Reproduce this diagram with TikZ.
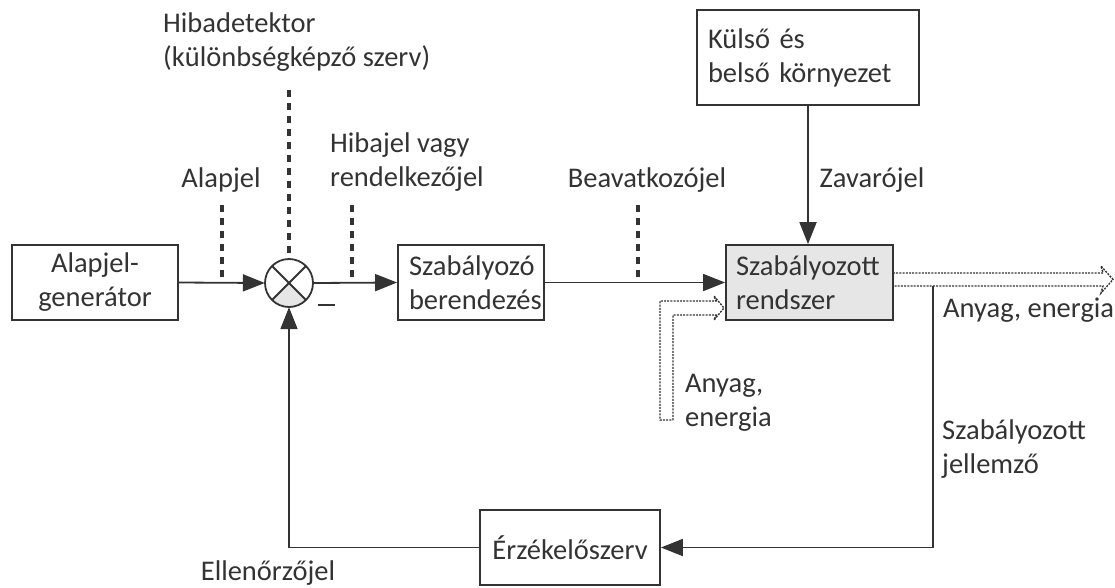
\documentclass[tikz,border=0pt]{standalone}
\usepackage{fontspec}
\setmainfont{Carlito}
\usetikzlibrary{arrows.meta,calc}
\definecolor{ink}{HTML}{333333}
\definecolor{lightfill}{HTML}{E6E6E6}
\begin{document}
\begin{tikzpicture}[x=1pt,y=-1pt,
  font=\fontsize{28.5}{34}\selectfont, text=ink,
  box/.style={draw=ink, line width=1.8pt, minimum height=75pt, inner sep=0pt},
  conn/.style={draw=ink, line width=1.8pt},
  arr/.style={conn, -{Triangle[length=22pt,width=17pt]}},
  tick/.style={draw=ink, line width=3.4pt, dash pattern=on 7pt off 6pt},
  hollow/.style={draw=ink, line width=1.4pt, dash pattern=on 2pt off 1.2pt, line join=miter},
  lbl/.style={inner sep=0pt, align=left}
]
\useasboundingbox (0,0) rectangle (1115,587);

% boxes
\node[box, minimum width=166pt, align=center] (gen) at (95,282.5) {Alapjel-\\generátor};
\node[box, minimum width=146pt, text width=124pt, align=left] (szb) at (471,282.5) {Szabályozó\\berendezés};
\node[box, fill=lightfill, minimum width=167pt, text width=147pt, align=left] (sr) at (809.5,282.5) {Szabályozott\\rendszer};
\node[box, minimum width=222pt, minimum height=95pt, text width=200pt, align=left] (env) at (808,57.5) {Külső és\\belső környezet};
\node[box, minimum width=180pt, align=center] (sens) at (570,547.5) {Érzékelőszerv};

% summing junction
\node[circle, minimum size=48pt, inner sep=0pt] (sum) at (289,283) {};
\begin{scope}
  \clip (sum.center) circle[radius=24pt];
  \fill[lightfill] (sum.center) -- ($(sum.center)+(-40,40)$) -- ($(sum.center)+(40,40)$) -- cycle;
\end{scope}
\draw[conn] (sum.center) circle[radius=24pt];
\draw[conn] (sum.45) -- (sum.225);
\draw[conn] (sum.135) -- (sum.-45);
\node[inner sep=0pt] (minus) at (326,305) {\rule{17pt}{2pt}};

% main connectors
\draw[arr] (gen.east) -- (sum.west);
\draw[arr] (sum.east) -- (szb.west);
\draw[arr] (szb.east) -- (sr.west);
\draw[arr] (env.south) -- (env.south |- sr.north);
\coordinate (fb) at (933,286);
\draw[arr] (fb) |- (sens.east);
\draw[arr] (sens.west) -| (sum.south);

% dotted signal ticks
\coordinate (t1a) at (222,205); \coordinate (t1b) at (222,281);
\coordinate (t2a) at (289,90);
\coordinate (t3a) at (352,205); \coordinate (t3b) at (352,281);
\coordinate (t4a) at (638,205); \coordinate (t4b) at (638,281);
\draw[tick] (t1a) -- (t1b);
\draw[tick] (t2a) -- (sum.north);
\draw[tick] (t3a) -- (t3b);
\draw[tick] (t4a) -- (t4b);

% hollow material/energy arrows
\coordinate (o1) at (893,273); \coordinate (o2) at (893,286);
\draw[hollow] (o1) -- (1103,273) -- (1101,266) -- (1113,279.5) -- (1101,293) -- (1103,286) -- (o2);
\draw[hollow] (673,420) -- (673,315) -- (716,315) -- (714,320) -- (724,308) -- (714,296) -- (716,301) -- (660,301) -- (660,420) -- cycle;

% labels
\node[lbl, anchor=west] (lhd) at (163,42) {Hibadetektor\\(különbségképző szerv)};
\node[lbl] (lal) at (221,180) {Alapjel};
\node[lbl, anchor=west] (lhj) at (330,162) {Hibajel vagy\\rendelkezőjel};
\node[lbl] (lbe) at (647,180) {Beavatkozójel};
\node[lbl] (lza) at (872,180) {Zavarójel};
\node[lbl, anchor=west] (lae) at (943,310) {Anyag, energia};
\node[lbl, anchor=west] (lae2) at (685,403) {Anyag,\\energia};
\node[lbl, anchor=west] (lsj) at (942,449) {Szabályozott\\jellemző};
\node[lbl] (lel) at (268,573) {Ellenőrzőjel};
\end{tikzpicture}
\end{document}
